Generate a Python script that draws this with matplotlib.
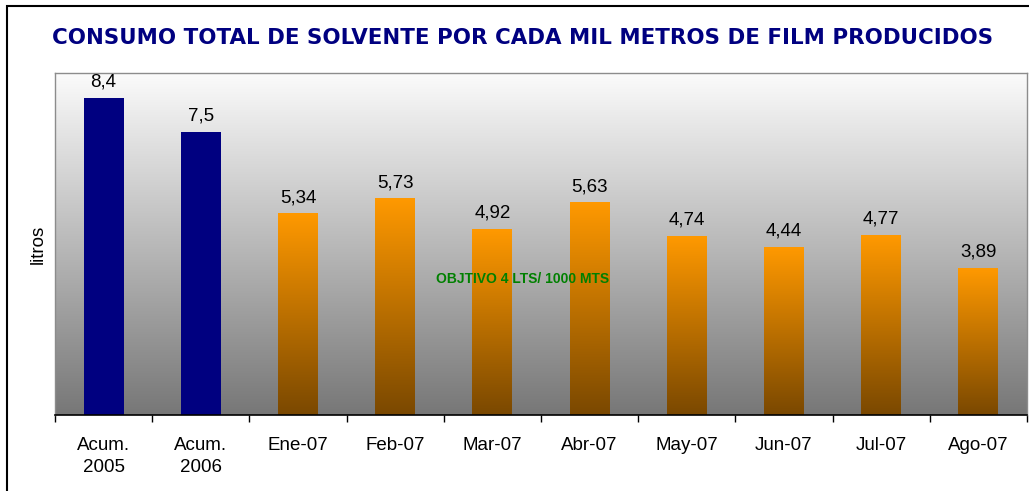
import numpy as np
import matplotlib
matplotlib.use("Agg")
import matplotlib.pyplot as plt
from matplotlib.colors import LinearSegmentedColormap
from matplotlib.patches import Rectangle

categories = ["Acum.\n2005", "Acum.\n2006", "Ene-07", "Feb-07", "Mar-07",
              "Abr-07", "May-07", "Jun-07", "Jul-07", "Ago-07"]
values = [8.4, 7.5, 5.34, 5.73, 4.92, 5.63, 4.74, 4.44, 4.77, 3.89]
is_accum = [True, True, False, False, False, False, False, False, False, False]
title = "CONSUMO TOTAL DE SOLVENTE POR CADA MIL METROS DE FILM PRODUCIDOS"
note = "OBJTIVO 4 LTS/ 1000 MTS"
ylabel = "litros"

W, H = 1029, 491
fig = plt.figure(figsize=(W / 100, H / 100), dpi=100)
fig.patch.set_facecolor("white")
ax = fig.add_axes([55 / W, 1 - 415 / H, (1027 - 55) / W, (415 - 73) / H])

ymax = 9.07
ax.set_xlim(-0.5, len(values) - 0.5)
ax.set_ylim(0, ymax)

# background gradient
bg = LinearSegmentedColormap.from_list("bg", ["#777777", "#fbfbfb"])
grad = np.linspace(0, 1, 256).reshape(-1, 1)
ax.imshow(grad, cmap=bg, origin="lower", aspect="auto",
          extent=[-0.5, len(values) - 0.5, 0, ymax], zorder=0)

orange = LinearSegmentedColormap.from_list("or", ["#7a4800", "#ff9900"])
bw = 0.41
x = np.arange(len(values))
for xi, v, acc in zip(x, values, is_accum):
    if acc:
        ax.bar(xi, v, width=bw, color="#000080", zorder=2)
    else:
        ax.imshow(grad, cmap=orange, origin="lower", aspect="auto",
                  extent=[xi - bw / 2, xi + bw / 2, 0, v], zorder=2)
    lab = f"{v:g}".replace(".", ",")
    ax.annotate(lab, (xi, v), xytext=(0, 5.5), textcoords="offset points",
                ha="center", va="bottom", fontsize=13.5,
                family="Liberation Sans", color="black", zorder=3)

ax.set_xlim(-0.5, len(values) - 0.5)
ax.set_ylim(0, ymax)

ax.set_xticks(x)
ax.set_xticklabels(categories, family="Liberation Sans", fontsize=13.5,
                   linespacing=1.35)
ax.tick_params(axis="x", which="major", length=0, pad=16)
ax.set_xticks(np.arange(-0.5, len(values)), minor=True)
ax.tick_params(axis="x", which="minor", length=5, width=1, color="black")
ax.set_yticks([])

for s in ["left", "top", "right"]:
    ax.spines[s].set_color("#8c8c8c")
    ax.spines[s].set_linewidth(1)
ax.spines["bottom"].set_color("black")
ax.spines["bottom"].set_linewidth(1.2)

ax.set_ylabel(ylabel, family="Liberation Sans", fontsize=13.5, labelpad=6)

ax.text(0.481, 0.398, note, transform=ax.transAxes, ha="center", va="center",
        fontsize=10, fontweight="bold", color="#008000",
        family="Liberation Sans", zorder=4)

fig.text(523 / W, 1 - 38 / H, title, ha="center", va="center",
         fontsize=15.4, fontweight="bold", color="#000080", family="DejaVu Sans")

fig.patches.append(Rectangle((7 / W, -0.5), 1.5, (1 - 6 / H) + 0.5,
                             transform=fig.transFigure, fill=False,
                             edgecolor="black", linewidth=1.5))

fig.savefig("out.png", dpi=100)
